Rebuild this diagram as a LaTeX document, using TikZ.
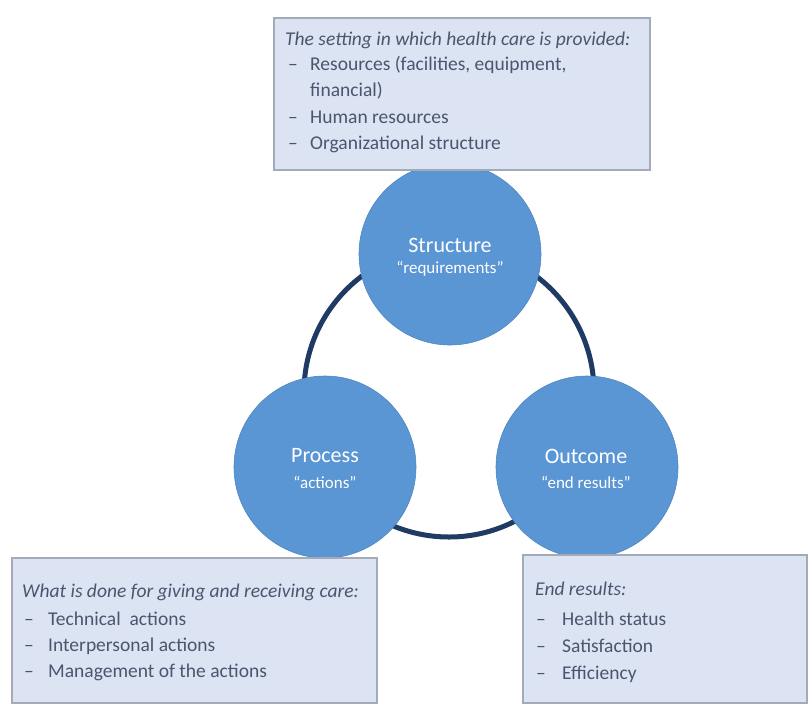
\documentclass[tikz,border=0pt]{standalone}
\usepackage{fontspec}
\setmainfont{Carlito}
\definecolor{circblue}{HTML}{5A95D4}
\definecolor{ringnavy}{HTML}{1F3A63}
\definecolor{boxfill}{HTML}{DCE3F3}
\definecolor{boxline}{HTML}{A3AAB8}
\definecolor{boxtext}{HTML}{4A566E}
\begin{document}
\begin{tikzpicture}[x=1pt,y=-1pt,
  blob/.style={circle, fill=circblue, draw=circblue!90!black, line width=0.6pt, minimum size=182pt, inner sep=0pt},
  ringline/.style={draw=ringnavy, line width=5pt},
  infobox/.style={rectangle, fill=boxfill, draw=boxline, line width=1.2pt, inner sep=0pt},
  ctitle/.style={text=white, font=\fontsize{22}{24}\selectfont, inner sep=0pt},
  csub/.style={text=white, font=\fontsize{17}{19}\selectfont, inner sep=0pt},
  btext/.style={text=boxtext, font=\fontsize{19.5}{22}\selectfont, anchor=mid west, inner sep=0pt},
  bhead/.style={btext, font=\fontsize{19.5}{22}\selectfont\itshape}
]
\useasboundingbox (0,0) rectangle (809,705);
\fill[white] (0,0) rectangle (809,705);

% ring
\coordinate (rc) at (449,392);
\draw[ringline] (rc) circle[radius=145pt];

% circles
\node[blob] (S) at (450,254) {};
\node[blob] (P) at (325,467) {};
\node[blob] (O) at (587,467) {};

\node[ctitle] (St) at (450,245) {Structure};
\node[csub] (Ss) at (450,269) {“requirements”};
\node[ctitle] (Pt) at (325,456) {Process};
\node[csub] (Ps) at (325,482) {“actions”};
\node[ctitle] (Ot) at (586,456) {Outcome};
\node[csub] (Os) at (586,482) {“end results”};

% boxes
\node[infobox, minimum width=376pt, minimum height=152pt] (B1) at (462,94) {};
\node[infobox, minimum width=365pt, minimum height=145pt] (B2) at (194.5,630.5) {};
\node[infobox, minimum width=284pt, minimum height=148pt] (B3) at (665,629) {};

% top box text
\node[bhead] (t0) at (285,43) {The setting in which health care is provided:};
\node[btext] (d1) at (288,68) {–};
\node[btext] (t1) at (310,68) {Resources (facilities, equipment,};
\node[btext] (t1b) at (310,94) {financial)};
\node[btext] (d2) at (288,121) {–};
\node[btext] (t2) at (310,121) {Human resources};
\node[btext] (d3) at (288,147) {–};
\node[btext] (t3) at (310,147) {Organizational structure};

% bottom-left box text
\node[bhead] (l0) at (22,595) {What is done for giving and receiving care:};
\node[btext] (ld1) at (24,623) {–};
\node[btext] (l1) at (48,623) {Technical\ \ actions};
\node[btext] (ld2) at (24,649) {–};
\node[btext] (l2) at (48,649) {Interpersonal actions};
\node[btext] (ld3) at (24,675) {–};
\node[btext] (l3) at (48,675) {Management of the actions};

% bottom-right box text
\node[bhead] (r0) at (535,593) {End results:};
\node[btext] (rd1) at (536,623) {–};
\node[btext] (r1) at (562,623) {Health status};
\node[btext] (rd2) at (536,650) {–};
\node[btext] (r2) at (562,650) {Satisfaction};
\node[btext] (rd3) at (536,677) {–};
\node[btext] (r3) at (562,677) {Efficiency};
\end{tikzpicture}
\end{document}
